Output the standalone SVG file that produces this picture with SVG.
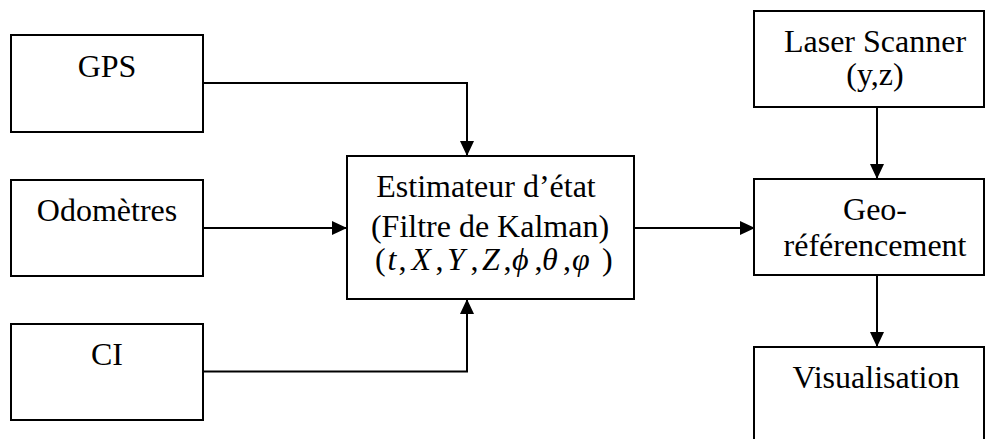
<svg xmlns="http://www.w3.org/2000/svg" width="985" height="439" viewBox="0 0 985 439">
<style>
.box{fill:#fff;stroke:#000;stroke-width:2}
.t{font-family:'Liberation Serif','Times New Roman',Times,'DejaVu Serif',serif;font-size:32px;fill:#000;text-anchor:middle}
.f{font-family:'Liberation Serif','Times New Roman',Times,'DejaVu Serif',serif;font-size:32px;fill:#000}
.i{font-style:italic}
.c{fill:none;stroke:#000;stroke-width:2}
</style>
<defs>
<marker id="ah" viewBox="0 0 15 14" refX="15" refY="7" markerWidth="15" markerHeight="14" markerUnits="userSpaceOnUse" orient="auto">
<path d="M0,0 L15,7 L0,14 Z" fill="#000"/>
</marker>
</defs>
<g id="connectors">
<path class="c" d="M203,83 H467 V156" marker-end="url(#ah)"/>
<path class="c" d="M203,228 H347" marker-end="url(#ah)"/>
<path class="c" d="M203,371.5 H467 V299" marker-end="url(#ah)"/>
<path class="c" d="M634,228 H755" marker-end="url(#ah)"/>
<path class="c" d="M877,107 V179" marker-end="url(#ah)"/>
<path class="c" d="M877,275 V347" marker-end="url(#ah)"/>
</g>
<g id="gps">
<rect class="box" x="11" y="35" width="192" height="97"/>
<text class="t" x="107" y="76.5">GPS</text>
</g>
<g id="odometres">
<rect class="box" x="11" y="180" width="192" height="96"/>
<text class="t" x="107" y="220.5">Odomètres</text>
</g>
<g id="ci">
<rect class="box" x="11" y="324" width="192" height="96"/>
<text class="t" x="107" y="365">CI</text>
</g>
<g id="estimateur">
<rect class="box" x="347" y="156" width="287" height="143"/>
<text class="t" x="486" y="196.5">Estimateur d’état</text>
<text class="t" x="490" y="237">(Filtre de Kalman)</text>
<text class="f" y="270"><tspan x="375">(</tspan><tspan class="i" x="387.5">t</tspan><tspan x="398.5">,</tspan><tspan class="i" x="411.5">X</tspan><tspan x="435.5">,</tspan><tspan class="i" x="447">Y</tspan><tspan x="470.5">,</tspan><tspan class="i" x="482">Z</tspan><tspan x="503.5">,</tspan><tspan class="i" x="512">ϕ</tspan><tspan x="534.5">,</tspan><tspan class="i" x="542">θ</tspan><tspan x="563">,</tspan><tspan class="i" x="572">φ</tspan><tspan x="602">)</tspan></text>
</g>
<g id="laser">
<rect class="box" x="754" y="11" width="230" height="96"/>
<text class="t" x="875" y="51.5">Laser Scanner</text>
<text class="t" x="875" y="85">(y,z)</text>
</g>
<g id="georef">
<rect class="box" x="754" y="179" width="230" height="96"/>
<text class="t" x="875" y="220">Geo-</text>
<text class="t" x="875" y="256">référencement</text>
</g>
<g id="visualisation">
<rect class="box" x="754" y="347" width="230" height="110"/>
<text class="t" x="876" y="388">Visualisation</text>
</g>
</svg>
